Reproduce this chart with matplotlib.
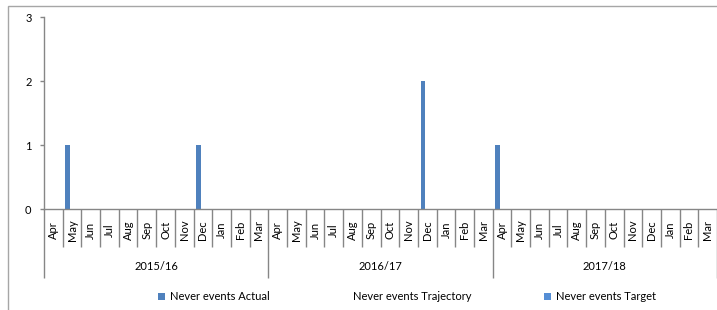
import matplotlib.pyplot as plt
from matplotlib.patches import Patch, Rectangle
from matplotlib.transforms import blended_transform_factory
import numpy as np

# Data
years = ['2015/16', '2016/17', '2017/18']
months = ['Apr', 'May', 'Jun', 'Jul', 'Aug', 'Sep', 'Oct', 'Nov', 'Dec', 'Jan', 'Feb', 'Mar']
actual = [0, 1, 0, 0, 0, 0, 0, 0, 1, 0, 0, 0,
          0, 0, 0, 0, 0, 0, 0, 0, 2, 0, 0, 0,
          1, 0, 0, 0, 0, 0, 0, 0, 0, 0, 0, 0]
trajectory = [0] * 36
target = [0] * 36

plt.rcParams['font.family'] = ['Lato', 'DejaVu Sans']
plt.rcParams['font.size'] = 8

grey = '#868686'
n = len(actual)
x = np.arange(n)
w = 0.24

fig = plt.figure(figsize=(7.17, 3.10), dpi=100)
ax = fig.add_axes([44 / 717, 1 - 209 / 310, 1 - 44 / 717, (209 - 17) / 310])

ax.bar(x - w, actual, w, color='#4F81BD', label='Never events Actual')
ax.bar(x, trajectory, w, color='none', label='Never events Trajectory')
ax.bar(x + w, target, w, color='#558ED5', label='Never events Target')

ax.set_xlim(-0.5, n - 0.5)
ax.set_ylim(0, 3)
ax.set_yticks([0, 1, 2, 3])

for s in ['top', 'right']:
    ax.spines[s].set_visible(False)
for s in ['left', 'bottom']:
    ax.spines[s].set_color(grey)
    ax.spines[s].set_linewidth(1.0)

ax.tick_params(axis='y', direction='out', length=3, width=1.0, color=grey, pad=6)

# category boundaries: long ticks at year edges, short ones between months
ax.set_xticks(np.arange(0, n + 1, 12) - 0.5)
ax.set_xticks(np.arange(0, n + 1) - 0.5, minor=True)
ax.tick_params(axis='x', which='major', direction='out', length=49.7, width=1.0,
               color=grey, labelbottom=False)
ax.tick_params(axis='x', which='minor', direction='out', length=27.4, width=1.0,
               color=grey, labelbottom=False)

tr = blended_transform_factory(ax.transData, fig.transFigure)
for i in range(n):
    ax.text(i, 1 - 230 / 310, months[i % 12], transform=tr, rotation=90,
            ha='center', va='center')
for j, yr in enumerate(years):
    ax.text(j * 12 + 5.5, 1 - 267 / 310, yr, transform=tr, ha='center', va='center')

handles, labels = ax.get_legend_handles_labels()
handles[1] = Patch(facecolor='none', edgecolor='none')
fig.legend(handles, labels, loc='center left', bbox_to_anchor=(158 / 717, 1 - 297 / 310),
           ncol=3, frameon=False, handlelength=0.6, handleheight=0.6,
           handletextpad=0.45, columnspacing=6.5, borderpad=0, borderaxespad=0)

# outer chart border
fig.add_artist(Rectangle((8 / 717, -0.2), 1.2, 1.2 - 6 / 310, transform=fig.transFigure,
                         fill=False, edgecolor='#a6a6a6', linewidth=1.0))

fig.savefig('out.png', dpi=100)
